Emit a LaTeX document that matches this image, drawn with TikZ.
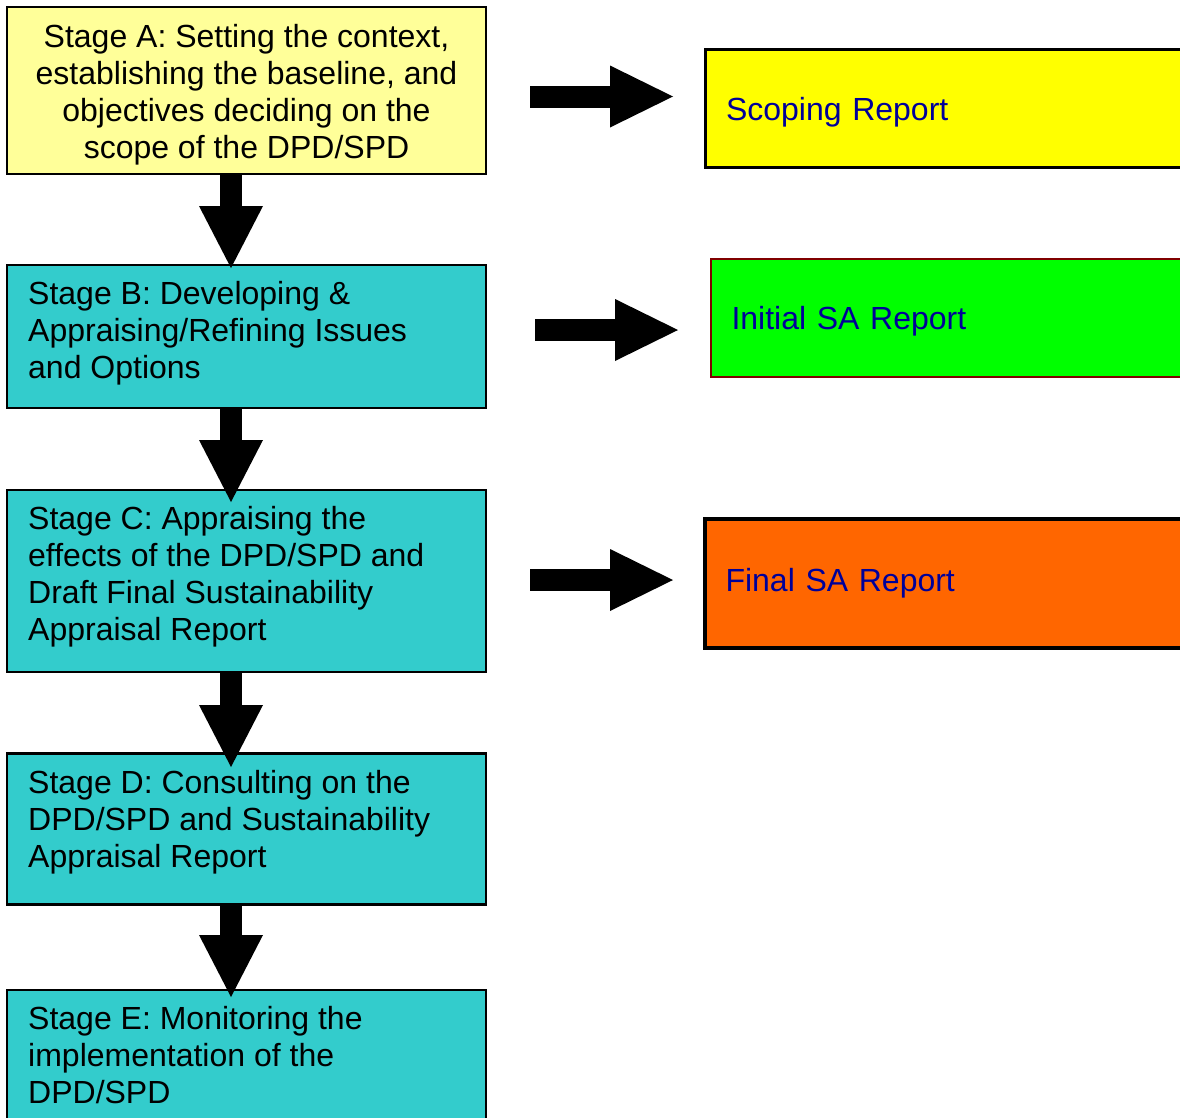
\documentclass[tikz,border=0pt]{standalone}
\usepackage{fontspec}
\setmainfont{Liberation Sans}
\usetikzlibrary{arrows.meta,calc}
\definecolor{paleyellow}{HTML}{FFFF99}
\definecolor{stageteal}{HTML}{33CCCC}
\definecolor{navytext}{HTML}{000099}
\definecolor{reportyellow}{HTML}{FFFF00}
\definecolor{reportgreen}{HTML}{00FF00}
\definecolor{reportorange}{HTML}{FF6600}
\definecolor{borderred}{HTML}{800000}
\begin{document}
\begin{tikzpicture}[x=1pt,y=-1pt,
  textfont/.style={font=\fontsize{32}{37}\selectfont},
  stagebox/.style={draw=black, line width=2.5pt, fill=stageteal, rectangle,
    inner sep=0pt, outer sep=0pt, minimum width=479pt, anchor=north west},
  stagetext/.style={textfont, anchor=north west, inner sep=0pt, align=left},
  reportbox/.style={rectangle, line width=2.5pt, anchor=north west, textfont,
    outer sep=0pt, text=navytext, text width=455pt, inner xsep=20.5pt,
    inner ysep=0pt, align=left, text depth=0pt},
  blockarrow/.style={draw=black, line width=22pt,
    -{Triangle[length=62pt, width=64pt, line width=0pt]}},
  sidearrow/.style={draw=black, line width=22pt,
    -{Triangle[length=63pt, width=62pt, line width=0pt]}}
]
\useasboundingbox (0,0) rectangle (1180,1117);
\clip (0,0) rectangle (1180,1117);
\fill[white] (0,0) rectangle (1180,1117);

% stage boxes
\node[stagebox, fill=paleyellow, minimum height=167pt] (A) at (7,7) {};
\node[stagebox, minimum height=143pt] (B) at (7,265) {};
\node[stagebox, minimum height=182pt] (C) at (7,490) {};
\node[stagebox, minimum height=151pt] (D) at (7,753.5) {};
\node[stagebox, minimum height=220pt] (E) at (7,990) {};

\node[textfont, align=center, inner sep=0pt] (At) at ($(A.center)+(0,4)$)
  {Stage A: Setting the context,\\establishing the baseline, and\\objectives deciding on the\\scope of the DPD/SPD};
\node[stagetext] (Bt) at ($(B.north west)+(21,16.5)$)
  {Stage B: Developing \&\\Appraising/Refining Issues\\and Options};
\node[stagetext] (Ct) at ($(C.north west)+(21,16.5)$)
  {Stage C: Appraising the\\effects of the DPD/SPD and\\Draft Final Sustainability\\Appraisal Report};
\node[stagetext] (Dt) at ($(D.north west)+(21,16.5)$)
  {Stage D: Consulting on the\\DPD/SPD and Sustainability\\Appraisal Report};
\node[stagetext] (Et) at ($(E.north west)+(21,16.5)$)
  {Stage E: Monitoring the\\implementation of the\\DPD/SPD};

% report boxes
\node[reportbox, draw=black, fill=reportyellow, minimum height=118pt]
  (S) at (705.5,49.5) {Scoping Report};
\node[reportbox, draw=borderred, line width=2pt, fill=reportgreen, minimum height=118pt]
  (I) at (711,259) {Initial SA Report};
\node[reportbox, draw=black, line width=3.5pt, fill=reportorange, minimum height=129pt, text depth=8pt]
  (F) at (705,519) {Final SA Report};

% vertical block arrows
\coordinate (a1) at (A.south -| 231,0);
\coordinate (b1) at (231,268);
\coordinate (a2) at (B.south -| 231,0);
\coordinate (b2) at (231,502);
\coordinate (a3) at (C.south -| 231,0);
\coordinate (b3) at (231,767);
\coordinate (a4) at (D.south -| 231,0);
\coordinate (b4) at (231,997);
\draw[blockarrow] (a1) -- (b1);
\draw[blockarrow] (a2) -- (b2);
\draw[blockarrow] (a3) -- (b3);
\draw[blockarrow] (a4) -- (b4);

% horizontal block arrows
\coordinate (s1) at (530,96.5);
\coordinate (t1) at (673,96.5);
\coordinate (s2) at (535,330);
\coordinate (t2) at (678,330);
\coordinate (s3) at (530,580);
\coordinate (t3) at (673,580);
\draw[sidearrow] (s1) -- (t1);
\draw[sidearrow] (s2) -- (t2);
\draw[sidearrow] (s3) -- (t3);
\end{tikzpicture}
\end{document}
